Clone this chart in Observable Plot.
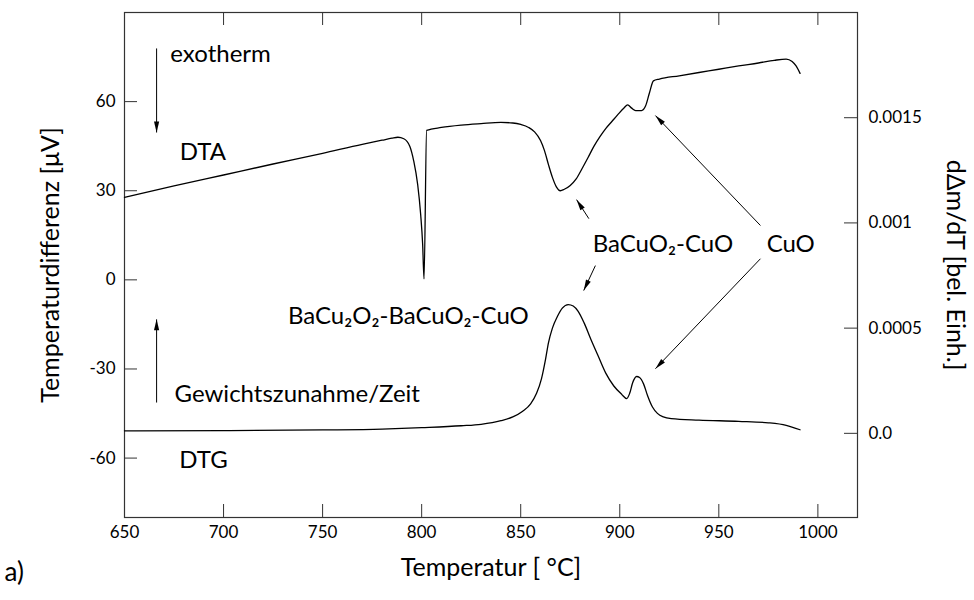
<!DOCTYPE html>
<html><head><meta charset="utf-8">
<script src="https://cdn.jsdelivr.net/npm/d3@7"></script>
<script src="https://cdn.jsdelivr.net/npm/@observablehq/plot@0.6"></script>
<style>body{margin:0;background:#fff;} svg{font-family:Lato,"DejaVu Sans",sans-serif;}</style>
</head><body><div id="chart"></div>
<script>
// ---- data ----
const dtaT = [650,675,700,725,750,770,780,785,788,791,794,796,798,799.5,800.5,801.2,802.5,810,820,830,840,846,850,854,857,860,862,864,866,868,870,872,875,878,881,884,887,890,893,896,899,902,904,906,908,911,913,915,917,920,930,940,950,960,970,978,984,987,989,991];
const dtaV = [27.8,31.6,35.3,39.0,42.6,45.6,47.0,47.7,48.0,47.5,45.0,40,32,22,12,0.3,50.3,51.3,52.1,52.6,53.0,52.8,52.3,51.3,49.8,46.9,43.5,38.8,34.5,31.3,30.0,30.5,31.8,34.0,37.5,41.2,45.0,48.2,51.0,53.3,55.6,57.8,58.9,57.8,57.0,57.0,58.5,63.0,67.0,67.6,68.7,69.8,70.9,72.0,73.0,73.9,74.3,73.5,72.0,69.5];
const dtgT = [650,700,750,780,800,820,830,840,846,851,855,858,860.5,862.5,864,866,868.5,871,874,876.5,879,882,885.5,889,893,897,901,903.5,905,906.5,908.5,910,912,914,916.5,919,922,926,940,960,975,984,991];
const dtgD = [0.000012,0.000013,0.000016,0.000020,0.000027,0.000036,0.000043,0.000060,0.000078,0.000105,0.000140,0.000190,0.000260,0.000350,0.000430,0.000500,0.000555,0.000595,0.000612,0.000605,0.000580,0.000525,0.000445,0.000370,0.000285,0.000225,0.000185,0.000165,0.000190,0.000240,0.000270,0.000265,0.000235,0.000180,0.000125,0.000095,0.000078,0.000070,0.000063,0.000057,0.000050,0.000038,0.000017];
const xTicks = [650,700,750,800,850,900,950,1000];
const yLeftTicks = [-60,-30,0,30,60];
const yRightTicks = [0,0.0005,0.001,0.0015];
const yRightLabels = ["0.0","0.0005","0.001","0.0015"];
const labelTexts = ["exotherm","DTA","Gewichtszunahme/Zeit","DTG","BaCu₂O₂-BaCuO₂-CuO","BaCuO₂-CuO","CuO"];
const labelT = [698.5,689.6,737.2,689.9,793.3,921.8,986.3];
const labelV = [75.9,43.0,-38.6,-60.7,-12.4,11.9,11.9];
const arrowT1 = [666.2,666.2,884.4,887.7,971.0,971.0];
const arrowV1 = [77.9,-41.3,20.6,4.8,18.3,7.1];
const arrowT2 = [666.2,666.2,878.2,881.8,918.0,918.0];
const arrowV2 = [49.6,-13.3,27.0,-3.6,55.3,-29.9];

// ---- layout ----
const W = 974, H = 600, mL = 124, mR = 117, mT = 12, mB = 83;
const xDomain = [650, 1020], yLeftDomain = [-80, 90], yRightDomain = [-0.0004, 0.002];
const kx = (W - mL - mR) / (xDomain[1] - xDomain[0]);
const ky = (H - mT - mB) / (yLeftDomain[1] - yLeftDomain[0]);
const toLeft = d => yLeftDomain[0] + (d - yRightDomain[0]) / (yRightDomain[1] - yRightDomain[0]) * (yLeftDomain[1] - yLeftDomain[0]);
const tickLen = 13;

const dta = dtaT.map((t, i) => ({t, v: dtaV[i]}));
const dtg = dtgT.map((t, i) => ({t, v: toLeft(dtgD[i])}));
const labels = labelTexts.map((s, i) => ({s, t: labelT[i], v: labelV[i]}));
const arrows = arrowT1.map((t, i) => {
  const dxp = (arrowT2[i] - t) * kx, dyp = -(arrowV2[i] - arrowV1[i]) * ky;
  return {t1: t, v1: arrowV1[i], t2: arrowT2[i], v2: arrowV2[i], angle: Math.atan2(dxp, -dyp) * 180 / Math.PI};
});
const rightPos = yRightTicks.map(toLeft);
const rightLabel = v => yRightLabels[rightPos.findIndex(p => Math.abs(p - v) < 1e-9)];
const head = {draw(ctx) { ctx.moveTo(0, 0); ctx.lineTo(-2.6, 11); ctx.lineTo(2.6, 11); ctx.closePath(); }};

const plot = Plot.plot({
  width: W, height: H,
  marginLeft: mL, marginRight: mR, marginTop: mT, marginBottom: mB,
  x: {domain: xDomain},
  y: {domain: yLeftDomain},
  style: {fontFamily: "Lato, 'DejaVu Sans', sans-serif", color: "black", background: "white"},
  marks: [
    Plot.frame({stroke: "#333", strokeWidth: 1.2}),
    // inward ticks
    Plot.ruleX(xTicks, {x: d => d, y1: yLeftDomain[0], y2: yLeftDomain[0] + tickLen / ky, stroke: "#333"}),
    Plot.ruleX(xTicks, {x: d => d, y1: yLeftDomain[1], y2: yLeftDomain[1] - tickLen / ky, stroke: "#333"}),
    Plot.ruleY(yLeftTicks, {y: d => d, x1: xDomain[0], x2: xDomain[0] + tickLen / kx, stroke: "#333"}),
    Plot.ruleY(rightPos, {y: d => d, x1: xDomain[1], x2: xDomain[1] - tickLen / kx, stroke: "#333"}),
    // tick labels
    Plot.axisX(xTicks, {anchor: "bottom", tickSize: 0, tickPadding: 8, fontSize: 17, label: null, tickFormat: d => String(d)}),
    Plot.axisY(yLeftTicks, {anchor: "left", tickSize: 0, tickPadding: 9, fontSize: 17, label: null, tickFormat: d => String(d)}),
    Plot.axisY(rightPos, {anchor: "right", tickSize: 0, tickPadding: 11, fontSize: 17, label: null, tickFormat: rightLabel}),
    // axis titles
    Plot.text(["Temperaturdifferenz [μV]"], {frameAnchor: "left", textAnchor: "middle", dx: -74, rotate: -90, fontSize: 25}),
    Plot.text(["dΔm/dT [bel. Einh.]"], {frameAnchor: "right", textAnchor: "middle", dx: 97, rotate: 90, fontSize: 25}),
    Plot.text(["Temperatur [ °C]"], {frameAnchor: "bottom", dy: 58, fontSize: 25}),
    Plot.text(["a)"], {frameAnchor: "bottom-left", dx: -120, dy: 63, textAnchor: "start", fontSize: 26}),
    // curves
    Plot.line(dta, {x: "t", y: "v", curve: "monotone-x", stroke: "black", strokeWidth: 1.3}),
    Plot.line(dtg, {x: "t", y: "v", curve: "monotone-x", stroke: "black", strokeWidth: 1.3}),
    // annotations
    Plot.text(labels, {x: "t", y: "v", text: "s", fontSize: 24}),
    Plot.link(arrows, {x1: "t1", y1: "v1", x2: "t2", y2: "v2", stroke: "black", strokeWidth: 1}),
    Plot.dot(arrows, {x: "t2", y: "v2", rotate: "angle", symbol: head, fill: "black", stroke: "none"})
  ]
});
document.getElementById("chart").appendChild(plot);
</script>
</body></html>
